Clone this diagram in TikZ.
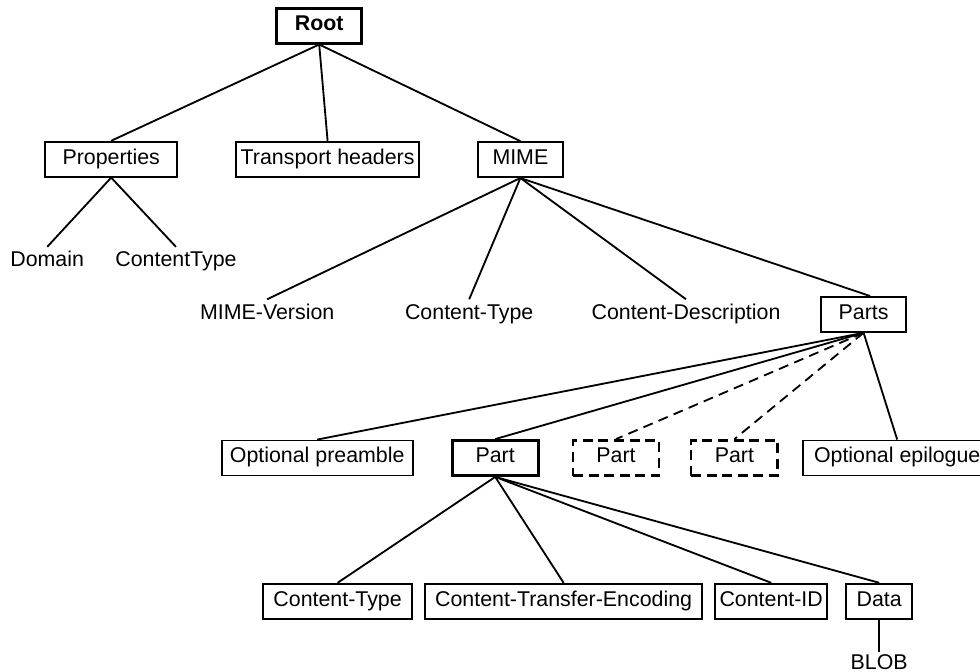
\documentclass[tikz,border=0pt]{standalone}
\usepackage{fontspec}
\setmainfont{Liberation Sans}
\usetikzlibrary{positioning}

\tikzset{
  every node/.style={font=\fontsize{15.2pt}{18pt}\selectfont, text height=0.69em, text depth=0pt},
  fieldbox/.style={rectangle, draw, line width=1.3pt, minimum height=0.875cm, inner sep=0pt},
  keybox/.style={fieldbox, line width=2pt},
  ghostbox/.style={fieldbox, line width=2pt, dash pattern=on 0.25cm off 0.14cm},
  leaf/.style={inner sep=0.25cm},
  link/.style={line width=1.3pt},
  ghostlink/.style={link, dash pattern=on 0.25cm off 0.16cm}
}

\begin{document}
\begin{tikzpicture}
				\useasboundingbox (0,0) rectangle (24.5,-16.8);

				% Radice
				\node[keybox, minimum width=2.13cm, font=\fontsize{15.2pt}{18pt}\selectfont\bfseries] (root) at (7.98,-0.64) {Root};

				% Primo livello
				\node[fieldbox, minimum width=3.3cm] (prop) at (2.78,-3.98) {Properties};
				\node[fieldbox, minimum width=4.58cm] (trans) at (8.19,-3.98) {Transport headers};
				\node[fieldbox, minimum width=2.13cm] (mime) at (13.01,-3.99) {MIME};

				% Foglie di Properties
				\node[leaf] (domain) at (1.18,-6.55) {Domain};
				\node[leaf] (ctype) at (4.4,-6.55) {ContentType};

				% Figli di MIME
				\node[leaf] (mver) at (6.68,-7.86) {MIME-Version};
				\node[leaf] (mctype) at (11.73,-7.86) {Content-Type};
				\node[leaf] (mdesc) at (17.15,-7.86) {Content-Description};
				\node[fieldbox, minimum width=2.13cm] (parts) at (21.59,-7.86) {Parts};

				% Figli di Parts
				\node[fieldbox, minimum width=4.78cm] (pre) at (7.93,-11.45) {Optional preamble};
				\node[keybox, minimum width=2.15cm] (part) at (12.38,-11.45) {Part};
				\node[ghostbox, minimum width=2.15cm] (partb) at (15.4,-11.45) {Part};
				\node[ghostbox, minimum width=2.17cm] (partc) at (18.36,-11.45) {Part};
				\node[fieldbox, minimum width=4.7cm] (epi) at (22.43,-11.45) {Optional epilogue};

				% Figli di Part
				\node[fieldbox, minimum width=3.73cm] (pctype) at (8.44,-15.03) {Content-Type};
				\node[fieldbox, minimum width=6.93cm] (penc) at (14.09,-15.03) {Content-Transfer-Encoding};
				\node[fieldbox, minimum width=2.8cm] (pid) at (19.28,-15.03) {Content-ID};
				\node[fieldbox, minimum width=1.65cm] (data) at (21.98,-15.03) {Data};
				\node[inner sep=0.2cm] (blob) at (21.98,-16.62) {BLOB};

				% Collegamenti
				\draw[link] (root.south) -- (prop.north);
				\draw[link] (root.south) -- (trans.north);
				\draw[link] (root.south) -- (mime.north);
				\draw[link] (prop.south) -- (domain.north);
				\draw[link] (prop.south) -- (ctype.north);
				\draw[link] (mime.south) -- (mver.north);
				\draw[link] (mime.south) -- (mctype.north);
				\draw[link] (mime.south) -- (mdesc.north);
				\draw[link] (mime.south) -- ([xshift=0.16cm]parts.north);
				\draw[link] (parts.south) -- (pre.north);
				\draw[link] (parts.south) -- (part.north);
				\draw[ghostlink] (parts.south) -- (partb.north);
				\draw[ghostlink] (parts.south) -- (partc.north);
				\draw[link] (parts.south) -- (epi.north);
				\draw[link] (part.south) -- (pctype.north);
				\draw[link] (part.south) -- (penc.north);
				\draw[link] (part.south) -- (pid.north);
				\draw[link] (part.south) -- (data.north);
				\draw[link] (data.south) -- (blob.north);
			\end{tikzpicture}
\end{document}
